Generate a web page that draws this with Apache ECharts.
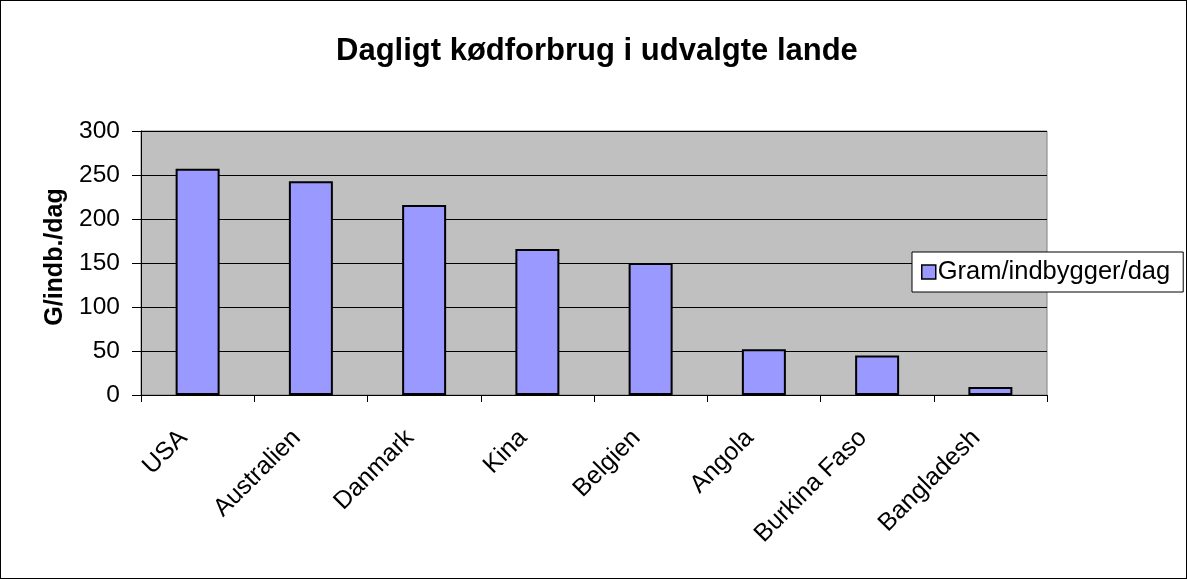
<!DOCTYPE html>
<html>
<head>
<meta charset="utf-8">
<style>
html,body{margin:0;padding:0;background:#fff;}
#c{width:1187px;height:579px;box-sizing:border-box;}
#frame{position:absolute;left:0;top:0;width:1187px;height:579px;box-sizing:border-box;border:1px solid #000;pointer-events:none;}
</style>
<script src="https://cdn.jsdelivr.net/npm/echarts@6/dist/echarts.min.js"></script>
</head>
<body>
<div id="c"></div>
<div id="frame"></div>
<script>
const categories = ['USA','Australien','Danmark','Kina','Belgien','Angola','Burkina Faso','Bangladesh'];
const values = [257, 243, 216, 166, 150, 52, 45, 9];
const seriesName = 'Gram/indbygger/dag';
const titleText = 'Dagligt kødforbrug i udvalgte lande';
const yAxisName = 'G/indb./dag';

const chart = echarts.init(document.getElementById('c'), null, {renderer:'canvas'});
const font = 'Liberation Sans, Arial, sans-serif';
chart.setOption({
  animation: false,
  backgroundColor: '#fff',
  title: {
    text: titleText, left: 336, top: 36, padding: 0,
    textStyle: {fontFamily: font, fontSize: 31, fontWeight: 'bold', color: '#000'}
  },
  legend: {
    orient: 'vertical', left: 912, top: 252,
    padding: [7, 13, 7, 9],
    backgroundColor: '#fff', borderColor: '#000', borderWidth: 1,
    itemWidth: 14, itemHeight: 14, itemGap: 0,
    icon: 'rect',
    textStyle: {fontFamily: font, fontSize: 25.5, lineHeight: 26, color: '#000', padding: [0,0,0,-3]},
    data: [{name: seriesName, itemStyle: {color: '#9999FF', borderColor: '#000', borderWidth: 1.5}}]
  },
  grid: {left: 141, right: 140, top: 131, bottom: 184, show: true, backgroundColor: '#C0C0C0', borderColor: '#808080', borderWidth: 1},
  xAxis: {
    type: 'category', data: categories,
    axisLine: {lineStyle: {color: '#000', width: 1}},
    axisTick: {show: true, alignWithLabel: false, length: 7, lineStyle: {color: '#000'}},
    axisLabel: {rotate: 45, fontFamily: font, fontSize: 25, color: '#000', margin: 25, interval: 0, padding: [0, 20, 0, 0]}
  },
  yAxis: {
    type: 'value', min: 0, max: 300, interval: 50,
    name: yAxisName, nameLocation: 'middle', nameRotate: 90, nameGap: 73,
    nameTextStyle: {fontFamily: font, fontSize: 25, fontWeight: 'bold', color: '#000', padding: [0, 0, 0, 12]},
    axisLine: {show: true, lineStyle: {color: '#000'}},
    axisTick: {show: true, length: 9, lineStyle: {color: '#000'}},
    axisLabel: {fontFamily: font, fontSize: 24.5, color: '#000', margin: 21},
    splitLine: {show: true, lineStyle: {color: '#000', width: 1}}
  },
  series: [{
    name: seriesName, type: 'bar', data: values, barWidth: 44,
    itemStyle: {color: '#9999FF', borderColor: '#000', borderWidth: 2}
  }]
});
</script>
</body>
</html>
